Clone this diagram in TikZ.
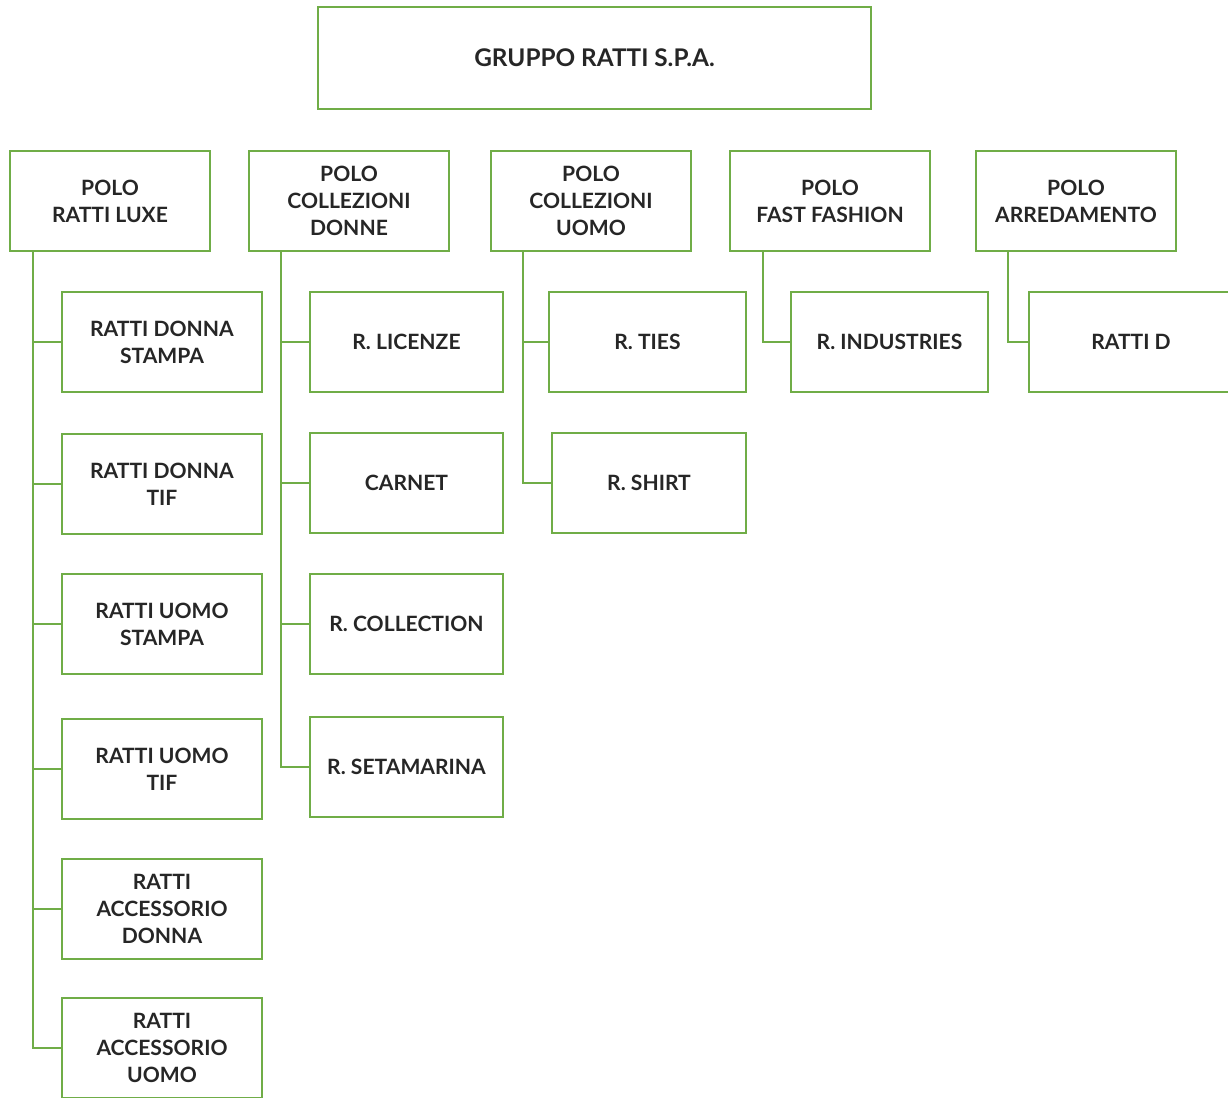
\documentclass[tikz,border=0pt]{standalone}
\usepackage{fontspec}
\setmainfont{Lato}
\definecolor{rattigreen}{RGB}{112,173,71}
\begin{document}
\begin{tikzpicture}[x=0.025cm, y=-0.025cm,
    box/.style={draw=rattigreen, line width=1.9pt, minimum width=200*0.025cm,
        minimum height=100*0.025cm, align=center, inner sep=0pt,
        font=\fontsize{15}{19.2}\selectfont\bfseries, text=black!85},
    link/.style={draw=rattigreen, line width=1.9pt}]
    \useasboundingbox (0,0) rectangle (1228,1097);
    \clip (0,0) rectangle (1228,1097);

    % Group
    \node[box, minimum width=553*0.025cm, minimum height=102*0.025cm,
        font=\fontsize{17.3}{20}\selectfont\bfseries] (gruppo) at (594.5,58) {GRUPPO RATTI S.P.A.};

    % Poli
    \node[box] (luxe)  at (110,201)  {POLO\\RATTI LUXE};
    \node[box] (donne) at (349,201)  {POLO\\COLLEZIONI\\DONNE};
    \node[box] (uomo)  at (591,201)  {POLO\\COLLEZIONI\\UOMO};
    \node[box] (fast)  at (830,201)  {POLO\\FAST FASHION};
    \node[box] (arred) at (1076,201) {POLO\\ARREDAMENTO};

    % Ratti Luxe
    \node[box] (luxeA) at (162,342) {RATTI DONNA\\STAMPA};
    \node[box] (luxeB) at (162,484) {RATTI DONNA\\TIF};
    \node[box] (luxeC) at (162,624) {RATTI UOMO\\STAMPA};
    \node[box] (luxeD) at (162,769) {RATTI UOMO\\TIF};
    \node[box] (luxeE) at (162,909) {RATTI\\ACCESSORIO\\DONNA};
    \node[box] (luxeF) at (162,1048) {RATTI\\ACCESSORIO\\UOMO};
    \coordinate (luxeSpine) at (33,251);
    \draw[link] (luxeSpine) |- (luxeF.west);
    \foreach \n in {luxeA, luxeB, luxeC, luxeD, luxeE}
        \draw[link] (luxeSpine |- \n.west) -- (\n.west);

    % Collezioni donne
    \node[box, minimum width=193*0.025cm] (donneA) at (406.5,342) {R. LICENZE};
    \node[box, minimum width=193*0.025cm] (donneB) at (406.5,483) {CARNET};
    \node[box, minimum width=193*0.025cm] (donneC) at (406.5,624) {R. COLLECTION};
    \node[box, minimum width=193*0.025cm] (donneD) at (406.5,767) {R. SETAMARINA};
    \coordinate (donneSpine) at (281,251);
    \draw[link] (donneSpine) |- (donneD.west);
    \foreach \n in {donneA, donneB, donneC}
        \draw[link] (donneSpine |- \n.west) -- (\n.west);

    % Collezioni uomo
    \node[box, minimum width=197*0.025cm] (uomoA) at (647.5,342) {R. TIES};
    \node[box, minimum width=194*0.025cm] (uomoB) at (649,483) {R. SHIRT};
    \coordinate (uomoSpine) at (523,251);
    \draw[link] (uomoSpine) |- (uomoB.west);
    \draw[link] (uomoSpine |- uomoA.west) -- (uomoA.west);

    % Fast fashion
    \node[box, minimum width=197*0.025cm] (fastA) at (889.5,342) {R. INDUSTRIES};
    \coordinate (fastSpine) at (763,251);
    \draw[link] (fastSpine) |- (fastA.west);

    % Arredamento
    \node[box, minimum width=204*0.025cm] (arredA) at (1131,342) {RATTI D};
    \coordinate (arredSpine) at (1008,251);
    \draw[link] (arredSpine) |- (arredA.west);
\end{tikzpicture}
\end{document}
